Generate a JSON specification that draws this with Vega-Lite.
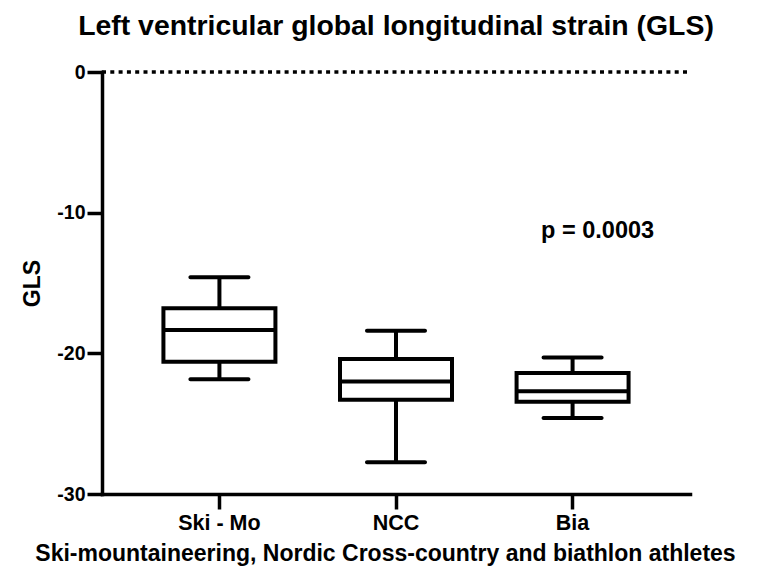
{
  "$schema": "https://vega.github.io/schema/vega-lite/v6.json",
  "autosize": {"type": "none"},
  "width": 588,
  "height": 422,
  "padding": {"left": 102, "top": 72, "right": 73, "bottom": 84},
  "background": "white",
  "config": {
    "font": "Liberation Sans",
    "view": {"stroke": null},
    "axisY": {
      "titleFontSize": 23,
      "titleFontWeight": "bold",
      "titleColor": "black",
      "titlePadding": 12,
      "labelFontSize": 19.5,
      "labelFontWeight": "bold",
      "labelColor": "black",
      "labelPadding": 2,
      "domainColor": "black",
      "domainWidth": 3.5,
      "tickColor": "black",
      "tickWidth": 3.5,
      "tickSize": 15,
      "grid": false,
      "domainCap": "square"
    }
  },
  "title": {
    "text": "Left ventricular global longitudinal strain (GLS)",
    "fontSize": 28.4,
    "fontWeight": "bold",
    "font": "Liberation Sans",
    "color": "black",
    "offset": 21,
    "anchor": "middle"
  },
  "data": {
    "values": [
      {"group": "Ski - Mo", "min": -21.85, "q1": -20.6, "median": -18.35, "q3": -16.8, "max": -14.6},
      {"group": "NCC", "min": -27.75, "q1": -23.3, "median": -22.0, "q3": -20.4, "max": -18.4},
      {"group": "Bia", "min": -24.6, "q1": -23.45, "median": -22.7, "q3": -21.4, "max": -20.3}
    ]
  },
  "encoding": {
    "x": {
      "field": "group",
      "type": "nominal",
      "sort": ["Ski - Mo", "NCC", "Bia"],
      "scale": {"paddingInner": 0, "paddingOuter": 0.165},
      "axis": {
        "title": "Ski-mountaineering, Nordic Cross-country and biathlon athletes",
        "titleFontSize": 23,
        "titleFontWeight": "bold",
        "titleColor": "black",
        "titlePadding": 9,
        "titleX": 283,
        "labelAngle": 0,
        "labelFontSize": 21.5,
        "labelFontWeight": "bold",
        "labelColor": "black",
        "labelPadding": 3,
        "domainColor": "black",
        "domainWidth": 3.5,
        "tickColor": "black",
        "tickWidth": 3.5,
        "tickSize": 15,
        "domainCap": "square"
      }
    }
  },
  "layer": [
    {
      "data": {"values": [{"y": 0}]},
      "mark": {"type": "rule", "strokeDash": [4, 4.3], "strokeWidth": 3.5, "color": "black"},
      "encoding": {"y": {"field": "y", "type": "quantitative"}, "x": {"value": 0}, "x2": {"value": 588}}
    },
    {
      "mark": {"type": "rule", "strokeWidth": 4, "color": "black"},
      "encoding": {
        "y": {"field": "min", "type": "quantitative", "scale": {"domain": [-30, 0], "nice": false, "zero": false},
          "axis": {
            "title": "GLS",
            "values": [0, -10, -20, -30],
            "labelExpr": "'' + datum.value"
          }
        },
        "y2": {"field": "max"}
      }
    },
    {
      "mark": {"type": "bar", "fill": "white", "stroke": "black", "strokeWidth": 4, "size": 112},
      "encoding": {
        "y": {"field": "q1", "type": "quantitative"},
        "y2": {"field": "q3"}
      }
    },
    {
      "mark": {"type": "tick", "color": "black", "opacity": 1, "thickness": 4, "size": 112},
      "encoding": {"y": {"field": "median", "type": "quantitative"}}
    },
    {
      "mark": {"type": "tick", "color": "black", "opacity": 1, "thickness": 4, "size": 62, "cornerRadius": 2},
      "encoding": {"y": {"field": "min", "type": "quantitative"}}
    },
    {
      "mark": {"type": "tick", "color": "black", "opacity": 1, "thickness": 4, "size": 62, "cornerRadius": 2},
      "encoding": {"y": {"field": "max", "type": "quantitative"}}
    },
    {
      "data": {"values": [{"group": "Bia", "y": -11.3, "label": "p = 0.0003"}]},
      "mark": {"type": "text", "fontSize": 23.5, "fontWeight": "bold", "color": "black", "dx": 25, "font": "Liberation Sans"},
      "encoding": {
        "x": {"field": "group", "type": "nominal", "sort": ["Ski - Mo", "NCC", "Bia"]},
        "y": {"field": "y", "type": "quantitative"},
        "text": {"field": "label"}
      }
    }
  ]
}
